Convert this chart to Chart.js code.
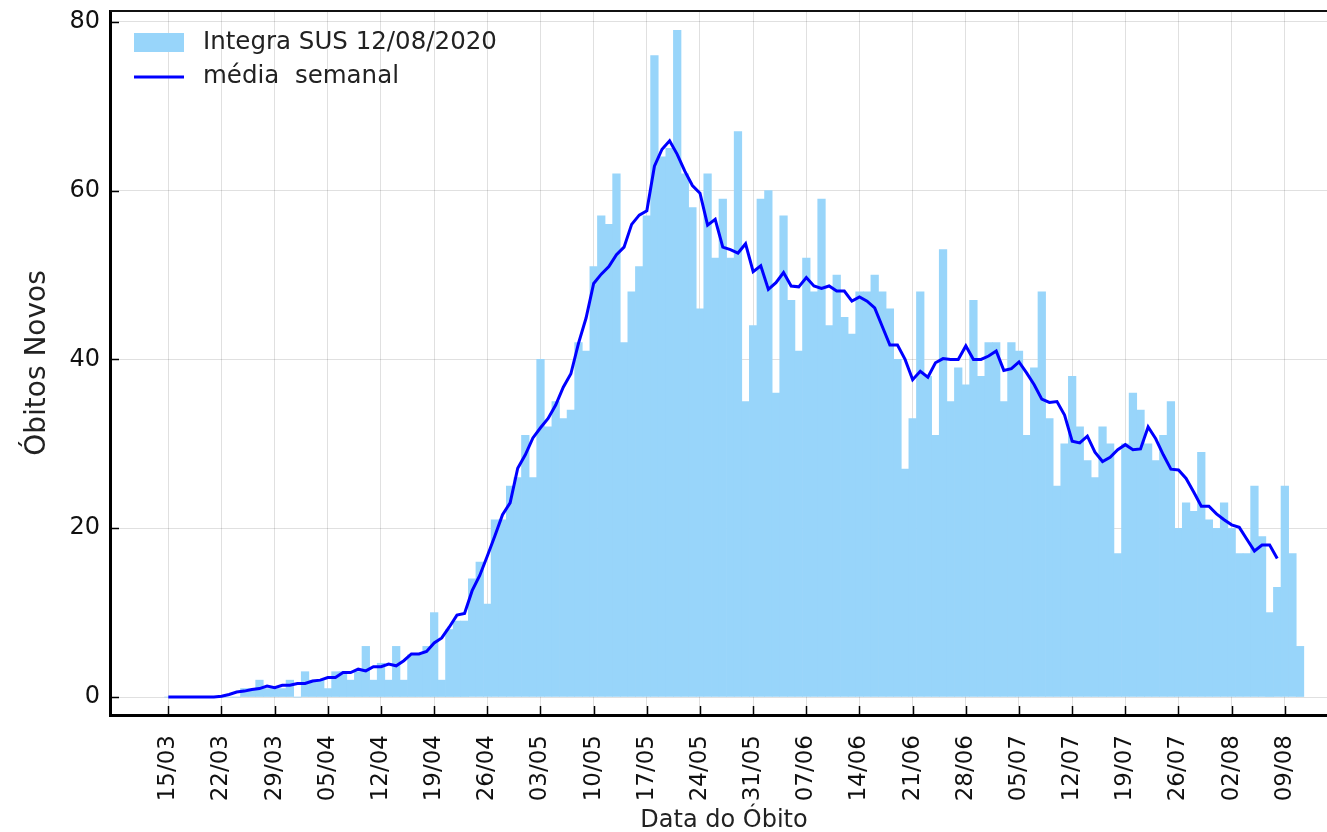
<!DOCTYPE html>
<html>
<head>
<meta charset="utf-8">
<title>Óbitos Novos</title>
<script src="https://cdn.jsdelivr.net/npm/chart.js@4/dist/chart.umd.min.js"></script>
<style>
  html, body { margin: 0; padding: 0; overflow: hidden; background: #fff; }
</style>
</head>
<body>
<canvas id="obitosChart" width="1340" height="832"></canvas>
<script>
// one label per week, the first one is day 0 (15/03)
const tickLabels = ['15/03', '22/03', '29/03', '05/04', '12/04', '19/04', '26/04', '03/05', '10/05', '17/05', '24/05',
  '31/05', '07/06', '14/06', '21/06', '28/06', '05/07', '12/07', '19/07', '26/07', '02/08', '09/08'];
const yTicks = [0, 20, 40, 60, 80];

// daily deaths, from 15/03 onwards
const obitos = [
  0, 0, 0, 0, 0, 0, 0, 0, 0, 0,
  1, 1, 2, 1, 1, 1, 2, 0, 3, 2,
  2, 1, 3, 3, 2, 3, 6, 2, 4, 2,
  6, 2, 5, 5, 6, 10, 2, 8, 9, 9,
  14, 16, 11, 21, 21, 25, 26, 31, 26, 40,
  32, 35, 33, 34, 42, 41, 51, 57, 56, 62,
  42, 48, 51, 57, 76, 64, 65, 79, 62, 58,
  46, 62, 52, 59, 52, 67, 35, 44, 59, 60,
  36, 57, 47, 41, 52, 48, 59, 44, 50, 45,
  43, 48, 48, 50, 48, 46, 40, 27, 33, 48,
  38, 31, 53, 35, 39, 37, 47, 38, 42, 42,
  35, 42, 41, 31, 39, 48, 33, 25, 30, 38,
  32, 28, 26, 32, 30, 17, 30, 36, 34, 30,
  28, 31, 35, 20, 23, 22, 29, 21, 20, 23,
  20, 17, 17, 25, 19, 10, 13, 25, 17, 6
];

// weekly average line, also from 15/03
const mediaSemanal = [
  0, 0, 0, 0, 0, 0, 0, 0.1, 0.3, 0.6,
  0.7, 0.9, 1.0, 1.3, 1.1, 1.4, 1.4, 1.6, 1.6, 1.9,
  2.0, 2.3, 2.3, 2.9, 2.9, 3.3, 3.1, 3.6, 3.6, 3.9,
  3.7, 4.3, 5.1, 5.1, 5.4, 6.4, 7.0, 8.3, 9.7, 9.9,
  12.6, 14.4, 16.7, 19.1, 21.6, 23.0, 27.1, 28.7, 30.7, 31.9,
  33.0, 34.6, 36.7, 38.3, 41.9, 44.9, 49.0, 50.1, 51.0, 52.4,
  53.3, 56.0, 57.1, 57.6, 62.9, 64.9, 65.9, 64.3, 62.3, 60.6,
  59.7, 55.9, 56.6, 53.3, 53.0, 52.6, 53.7, 50.4, 51.1, 48.3,
  49.1, 50.3, 48.7, 48.6, 49.7, 48.7, 48.4, 48.7, 48.1, 48.1,
  46.9, 47.4, 46.9, 46.1, 43.9, 41.7, 41.7, 40.0, 37.6, 38.6,
  37.9, 39.6, 40.1, 40.0, 40.0, 41.6, 40.0, 40.0, 40.4, 41.0,
  38.7, 38.9, 39.7, 38.4, 37.0, 35.3, 34.9, 35.0, 33.4, 30.3,
  30.1, 30.9, 29.0, 27.9, 28.4, 29.3, 29.9, 29.3, 29.4, 32.0,
  30.6, 28.7, 27.0, 26.9, 25.9, 24.3, 22.6, 22.6, 21.7, 21.0,
  20.4, 20.1, 18.7, 17.3, 18.0, 18.0, 16.4
];

const barColor = 'rgb(152, 213, 250)';
const lineColor = '#0000ff';

Chart.defaults.font.family = "'DejaVu Sans', sans-serif";

// spines on top, inward ticks and the legend inside the plot
const frameAndLegend = {
  id: 'frameAndLegend',
  afterDraw(chart) {
    const ctx = chart.ctx;
    const { left, top, right, bottom } = chart.chartArea;
    const xs = chart.scales.x, ys = chart.scales.y;
    ctx.save();
    ctx.strokeStyle = '#111';
    ctx.lineWidth = 2;
    ctx.beginPath();
    ctx.moveTo(left, top);
    ctx.lineTo(right, top);
    ctx.stroke();

    ctx.strokeStyle = '#000';
    ctx.lineWidth = 1.5;
    ctx.beginPath();
    xs.ticks.forEach(t => {
      const x = Math.round(xs.getPixelForValue(t.value)) + 0.5;
      ctx.moveTo(x, bottom);
      ctx.lineTo(x, bottom - 9);
    });
    ys.ticks.forEach(t => {
      const y = Math.round(ys.getPixelForValue(t.value)) + 0.5;
      ctx.moveTo(left, y);
      ctx.lineTo(left + 9, y);
    });
    ctx.stroke();

    const ds = chart.data.datasets;
    ctx.fillStyle = ds[0].backgroundColor;
    ctx.fillRect(left + 24, top + 22, 50, 19);
    ctx.strokeStyle = ds[1].borderColor;
    ctx.lineWidth = 3;
    ctx.beginPath();
    ctx.moveTo(left + 24, top + 66);
    ctx.lineTo(left + 74, top + 66);
    ctx.stroke();
    ctx.fillStyle = '#222';
    ctx.font = "24.5px 'DejaVu Sans'";
    ctx.textBaseline = 'middle';
    ctx.fillText(ds[0].label, left + 93, top + 32);
    ctx.fillText(ds[1].label, left + 93, top + 66);
    ctx.restore();
  }
};

new Chart(document.getElementById('obitosChart').getContext('2d'), {
  data: {
    datasets: [
      {
        type: 'bar',
        label: 'Integra SUS 12/08/2020',
        data: obitos.map((v, i) => ({ x: i, y: v })),
        backgroundColor: barColor,
        borderWidth: 0,
        barPercentage: 1,
        categoryPercentage: 1,
        order: 2
      },
      {
        type: 'line',
        label: 'média  semanal',
        data: mediaSemanal.map((v, i) => ({ x: i, y: v })),
        borderColor: lineColor,
        borderWidth: 3,
        pointRadius: 0,
        tension: 0,
        fill: false,
        order: 1
      }
    ]
  },
  options: {
    responsive: false,
    animation: false,
    devicePixelRatio: 1,
    layout: { padding: { top: 11, right: 2, bottom: 0, left: 0 } },
    plugins: { legend: { display: false }, tooltip: { enabled: false } },
    scales: {
      x: {
        type: 'linear',
        min: -7.68,
        max: 154,
        offset: false,
        z: 1,
        grid: { color: 'rgba(0,0,0,0.12)', drawTicks: false, offset: false },
        border: { color: '#000', width: 3 },
        afterBuildTicks: s => { s.ticks = tickLabels.map((_, i) => ({ value: i * 7 })); },
        afterFit: s => { s.height = 117; s.paddingLeft = 0; s.paddingRight = 0; },
        ticks: {
          autoSkip: false,
          minRotation: 90,
          maxRotation: 90,
          padding: 20,
          color: '#111',
          font: { size: 23 },
          callback: (v, i) => tickLabels[i]
        },
        title: { display: true, text: 'Data do Óbito', color: '#222', font: { size: 24 }, padding: { top: 0, bottom: -3 } }
      },
      y: {
        min: -2.13,
        max: 81.28,
        z: 1,
        grid: { color: 'rgba(0,0,0,0.12)', drawTicks: false },
        border: { color: '#000', width: 3 },
        afterBuildTicks: s => { s.ticks = yTicks.map(v => ({ value: v })); },
        afterFit: s => { s.width = 110; s.paddingTop = 0; s.paddingBottom = 0; },
        ticks: { padding: 10, color: '#111', font: { size: 24 } },
        title: { display: true, text: 'Óbitos Novos', color: '#222', font: { size: 28 }, padding: { top: 21, bottom: 0 } }
      }
    }
  },
  plugins: [frameAndLegend]
});
</script>
</body>
</html>
